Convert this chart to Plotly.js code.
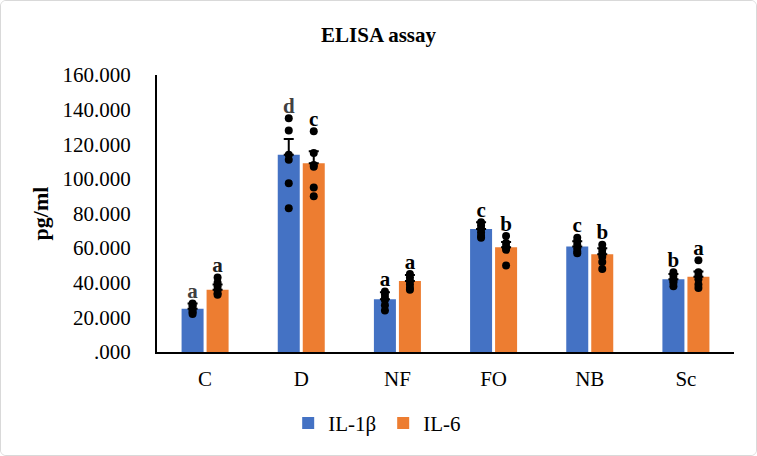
<!DOCTYPE html>
<html>
<head>
<meta charset="utf-8">
<script src="https://cdn.plot.ly/plotly-3.0.1.min.js"></script>
<style>
html,body{margin:0;padding:0;background:#fff;}
#chart{width:755px;height:454px;border:1px solid #d9d9d9;border-radius:6px;overflow:hidden;}
</style>
</head>
<body>
<div id="chart"></div>
<script>
const categories = ["C", "D", "NF", "FO", "NB", "Sc"];
const il1bMeans = [25, 114, 30.5, 71, 61, 42];
const il6Means = [36, 109, 41, 60.5, 56.5, 43.5];
const il1bErr = [3, 9, 4, 4, 3, 3];
const il6Err = [3, 7, 3.5, 3, 3.5, 3];
const il1bPoints = [
  [22, 23, 24, 26, 27, 28],
  [83, 97.5, 111, 114, 128, 135],
  [24, 27, 30, 31, 33, 35],
  [66, 67, 69, 71, 73, 75],
  [57, 58, 60, 62, 64, 66],
  [38, 40, 41, 42, 44, 46]
];
const il6Points = [
  [33, 34, 36, 38, 40, 43],
  [90, 95, 107, 115, 127.5, 108],
  [36, 37, 39, 41, 43, 45],
  [50, 59, 60, 61, 63, 67],
  [48, 52, 55, 57, 59, 62],
  [37, 39, 42, 44, 46, 53]
];
const il1bLetters = ["a", "d", "a", "c", "c", "b"];
const il6Letters = ["a", "c", "a", "b", "b", "a"];
const il1bLetterColors = ["#404040", "#404040", "#000", "#000", "#000", "#000"];
const il6LetterColors = ["#202020", "#000", "#000", "#000", "#000", "#000"];
const yTickVals = [0, 20, 40, 60, 80, 100, 120, 140, 160];
const yTickText = [".000", "20.000", "40.000", "60.000", "80.000", "100.000", "120.000", "140.000", "160.000"];

const font = "Liberation Serif, Times New Roman, serif";
const blue = "#4472C4", orange = "#ED7D31";

function flatX(pts){ const xs=[]; pts.forEach((p,i)=>p.forEach(()=>xs.push(categories[i]))); return xs; }
function flatY(pts){ return pts.flat(); }
function topOf(pts, means, errs){ return pts.map((p,i)=>Math.max(Math.max(...p), means[i]+errs[i])); }

const traces = [
  {type:"bar", name:"IL-1β", x:categories, y:il1bMeans, marker:{color:blue},
   offsetgroup:"1", alignmentgroup:"a",
   error_y:{type:"data", array:il1bErr, arrayminus:il1bErr.map(()=>0), symmetric:false, color:"#000", thickness:2, width:5}},
  {type:"bar", name:"IL-6", x:categories, y:il6Means, marker:{color:orange},
   offsetgroup:"2", alignmentgroup:"a",
   error_y:{type:"data", array:il6Err, arrayminus:il6Err.map(()=>0), symmetric:false, color:"#000", thickness:2, width:5}},
  {type:"scatter", mode:"markers", x:flatX(il1bPoints), y:flatY(il1bPoints), offsetgroup:"1", alignmentgroup:"a",
   marker:{color:"#000", size:8}, showlegend:false, hoverinfo:"skip"},
  {type:"scatter", mode:"markers", x:flatX(il6Points), y:flatY(il6Points), offsetgroup:"2", alignmentgroup:"a",
   marker:{color:"#000", size:8}, showlegend:false, hoverinfo:"skip"},
  {type:"scatter", mode:"text", x:categories, y:topOf(il1bPoints, il1bMeans, il1bErr), text:il1bLetters,
   textposition:"top center", offsetgroup:"1", alignmentgroup:"a",
   textfont:{family:font, size:21, color:il1bLetterColors, weight:"bold"}, showlegend:false, hoverinfo:"skip"},
  {type:"scatter", mode:"text", x:categories, y:topOf(il6Points, il6Means, il6Err), text:il6Letters,
   textposition:"top center", offsetgroup:"2", alignmentgroup:"a",
   textfont:{family:font, size:21, color:il6LetterColors, weight:"bold"}, showlegend:false, hoverinfo:"skip"}
];

const layout = {
  width:755, height:454,
  margin:{l:156, r:22, t:74, b:102},
  paper_bgcolor:"#fff", plot_bgcolor:"#fff",
  font:{family:font, color:"#000"},
  title:{text:"<b>ELISA assay</b>", x:0.5, xanchor:"center", y:0.925, yanchor:"middle", font:{family:font, size:21, color:"#000"}},
  barmode:"group", bargap:0.48, bargroupgap:0.12,
  scattermode:"group", scattergap:0.48,
  xaxis:{type:"category", showline:true, linecolor:"#000", linewidth:2, ticks:"", showgrid:false,
    tickfont:{family:font, size:21, color:"#000"}, zeroline:false, ticklabelstandoff:7},
  yaxis:{range:[0,160], showline:true, linecolor:"#000", linewidth:2, ticks:"", showgrid:false, zeroline:false,
    tickvals:yTickVals, ticktext:yTickText, tickfont:{family:font, size:21, color:"#000"}, ticklabelstandoff:20,
    title:{text:"<b>pg/ml</b>", font:{family:font, size:22, color:"#000"}, standoff:8}},
  legend:{orientation:"h", x:0.392, xanchor:"center", y:-0.253, yanchor:"middle",
    font:{family:font, size:21, color:"#000"}, itemwidth:30, entrywidth:50, entrywidthmode:"pixels"},
  showlegend:true
};

Plotly.newPlot("chart", traces, layout, {displayModeBar:false, staticPlot:true});
</script>
</body>
</html>
